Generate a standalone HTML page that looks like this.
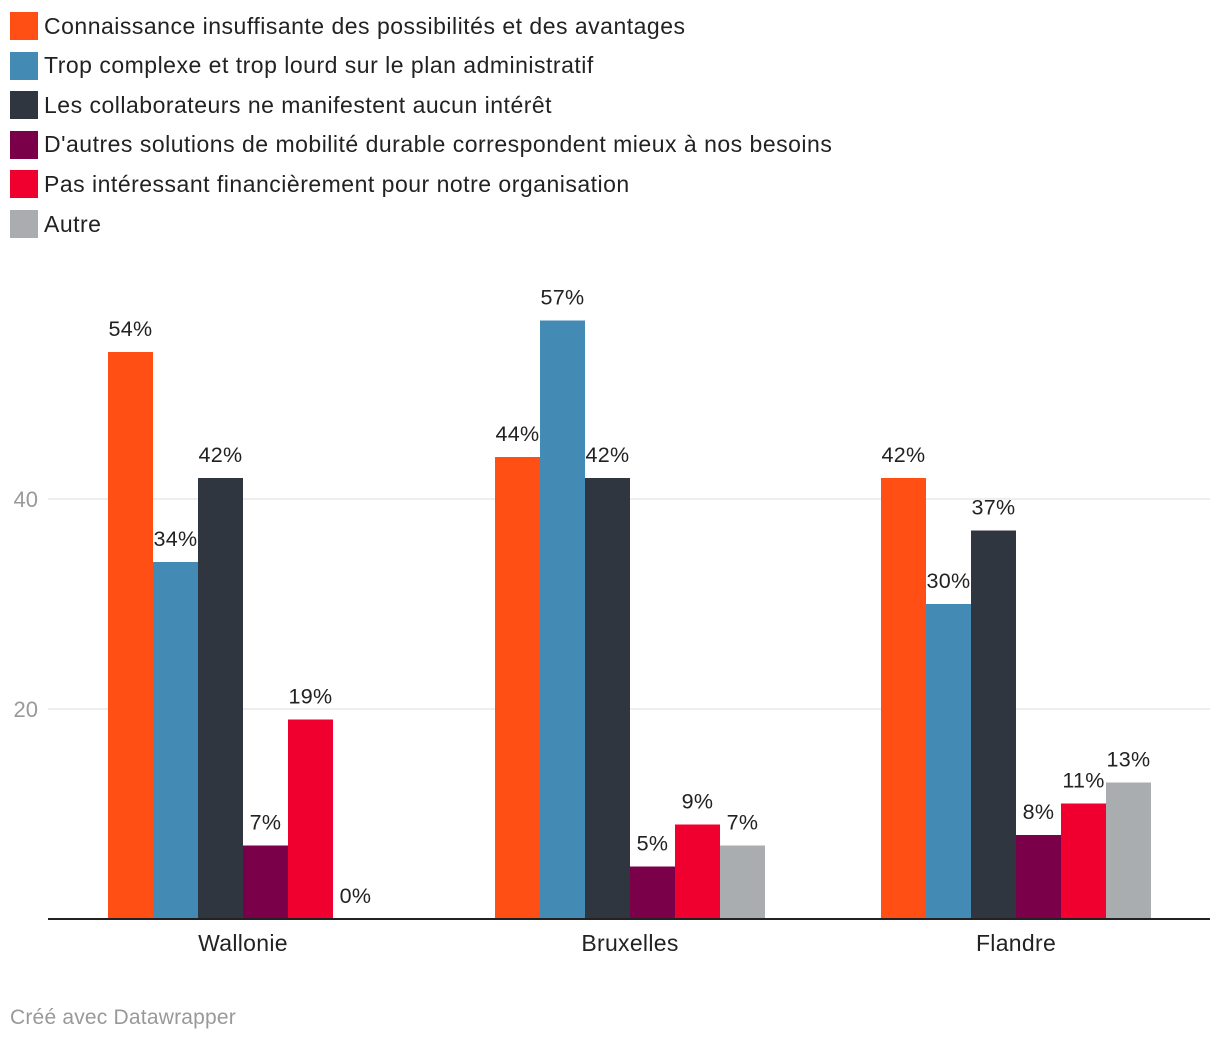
<!DOCTYPE html>
<html><head><meta charset="utf-8">
<style>
body{margin:0;background:#fff;width:1220px;height:1040px;overflow:hidden;font-family:"Liberation Sans",sans-serif;}
.leg{position:absolute;left:10px;height:28px;display:flex;align-items:center;font-size:23px;letter-spacing:0.5px;color:#222;white-space:nowrap;}
.sw{width:28px;height:28px;margin-right:6px;}
</style></head><body>
<div id="legend"></div>
<svg id="chart" width="1220" height="1040" style="position:absolute;left:0;top:0"></svg>
<script>
const seriesNames=["Connaissance insuffisante des possibilités et des avantages","Trop complexe et trop lourd sur le plan administratif","Les collaborateurs ne manifestent aucun intérêt","D'autres solutions de mobilité durable correspondent mieux à nos besoins","Pas intéressant financièrement pour notre organisation","Autre"];
const colors=["#ff4f14","#438ab4","#30363f","#7b004a","#f0002f","#aaadb0"];
const categories=["Wallonie","Bruxelles","Flandre"];
const values=[[54,34,42,7,19,0],[44,57,42,5,9,7],[42,30,37,8,11,13]];
const ticks=[20,40];
const NS="http://www.w3.org/2000/svg";
const svg=document.getElementById('chart');
const y0=919,unit=10.5,bw=45,groupStart=[108,495,881];
const y=v=>y0-v*unit;
function mk(t,a){const e=document.createElementNS(NS,t);for(const k in a)e.setAttribute(k,a[k]);svg.appendChild(e);return e;}
const leg=document.getElementById('legend');
seriesNames.forEach((n,i)=>{const d=document.createElement('div');d.className='leg';d.style.top=(12+i*39.6)+'px';


d.innerHTML='<div class="sw" style="background:'+colors[i]+'"></div>'+n.replace(/</g,'&lt;');leg.appendChild(d);});
ticks.forEach(t=>{const l=mk('line',{x1:48,x2:1210,y1:y(t),y2:y(t),stroke:'#dcdcdc','stroke-width':1});


const tx=mk('text',{x:38,y:y(t)+8,'text-anchor':'end','font-size':22,fill:'#999'});tx.textContent=t;

});
categories.forEach((c,g)=>{values[g].forEach((v,i)=>{const x=groupStart[g]+i*bw;
const r=mk('rect',{x:x,y:y(v),width:bw,height:v*unit,fill:colors[i]});


const t=mk('text',{x:x+bw/2,y:y(v)-16,'text-anchor':'middle','font-size':21.5,'letter-spacing':0.3,fill:'#222'});t.textContent=v+'%';

});
const cl=mk('text',{x:groupStart[g]+3*bw,y:951,'text-anchor':'middle','font-size':23,'letter-spacing':0.3,fill:'#222'});cl.textContent=c;

});
const ax=mk('line',{x1:48,x2:1210,y1:y0,y2:y0,stroke:'#222','stroke-width':2});


const f=mk('text',{x:10,y:1024,'font-size':21,'letter-spacing':0.2,fill:'#999'});f.textContent='Créé avec Datawrapper';


</script>
</body></html>
